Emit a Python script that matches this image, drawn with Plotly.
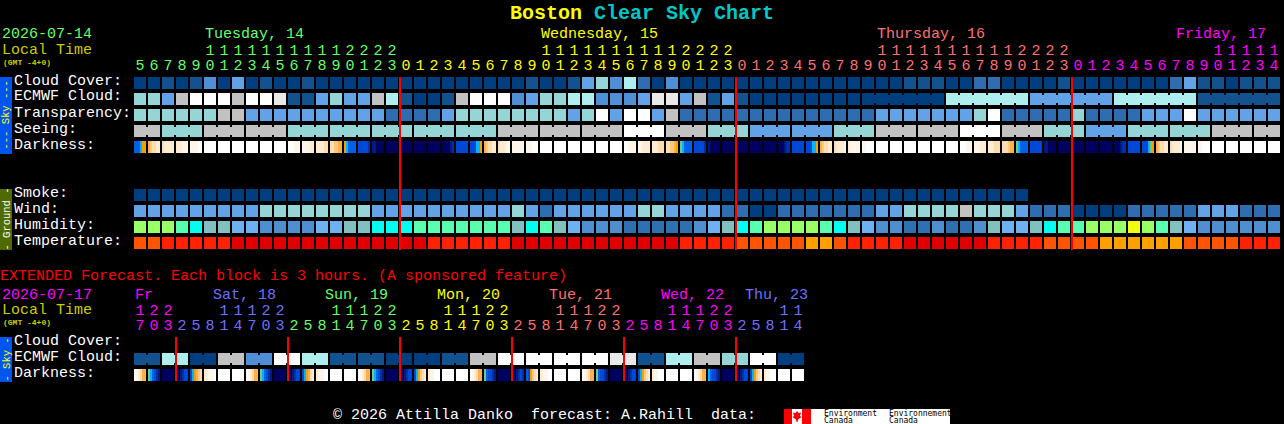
import plotly.graph_objects as go

W, H = 1284, 424
MONO = "Liberation Mono"

# ---------------- data (hourly block forecast, 82 columns) ----------------
hours = [5,6,7,8,9,10,11,12,13,14,15,16,17,18,19,20,21,22,23,
         0,1,2,3,4,5,6,7,8,9,10,11,12,13,14,15,16,17,18,19,20,21,22,23,
         0,1,2,3,4,5,6,7,8,9,10,11,12,13,14,15,16,17,18,19,20,21,22,23,
         0,1,2,3,4,5,6,7,8,9,10,11,12,13,14]
hour_days = [19, 24, 24, 15]
hour_day_colors = ["#66ff66", "#ffff00", "#ff7070", "#ff00ff"]
midnights = [19, 43, 67]

cloud_cover = "AABABDAEABAABAAAAAAAA" "AAAAAAABAABEFDGCADAAAAAAAAAAAAA" "AAABBBAACCAAAABAAAAAAACEBBABBB"
ecmwf_cloud = "FFEHJJJHJJIBBEFEEHGBA" "ABHJJJDEFFGGDDDEIIEHBEBAAAAAAAA" "AAAAAAGGGGGGEEEEEEGGGGGGBBBBBB"
ecmwf_groups = [1]*52 + [6, 6, 6, 6, 6]
transparency = "FFFFFFHHEEEEEEEEEECCC" "CEFFFFFFFFEFJEJJEHCCCCCCCCCCCCC" "CEEEEEEEFJCCCCCFCCCCEEEJEEEEEE"
seeing_blocks = "HFHHFFFFFHHHJHFEEFHHJHFEFFHH"
seeing_groups = [2] + [3]*26 + [2]
darkness = ["999866","543322","322222","222111","111100","0","0","0","0","0","0",
            "000111","111122","222233","334455","689999","aaaaab","ccdddd","d","d","d","d",
            "ddddcb","a","aaa886","543322","322211","1","111000","0","0","0","0","0","0",
            "001111","112222","222333","334456","789999","aaaaab","cddddd","d","d","d","d",
            "dddcbb","a","aaa886","543322","322221","211111","110000","0","0","0","0","0","0",
            "000111","111222","222333","333455","789999","a","ccdddd","d","d","d","d",
            "dddcbb","a","aaa876","543322","322221","1","110000","0","0","0","0","0"]
smoke = "AAAAAAAAAAAAAAAAAAAAAAAAAAAAAAAAAAAAAAAAAAAAAAAAAAAAAAAAAAAAAAAA"
wind = "EEEEEEEEEFFFFFFFFEEEE" "EEEEEEFECEEEEEEFFEEEECCAACCCCCC" "CEEFFFFHFFFECCCAAAACCCCCEEECCC"
humidity = "LLLMYTTSSDDDDSSTTYYYM" "MMMMMMTYMTSDDDCCCCCDSTYMLLLLMYT" "SDDCCDCCDTSSTYMMLLLULMTSDDDDDD"
temperature = "OOPPPPPRRRRRRRRRRRRRR" "PPPPPPRRRRRRRRRRRRPPPPOOOOOAAOP" "PPPRRRRRRPPPPOOOOAAAAAAOOOOPPP"

# ---------------- data (extended 3-hourly forecast, 48 columns) ----------------
ext_hours = [17,20,23, 2,5,8,11,14,17,20,23, 2,5,8,11,14,17,20,23, 2,5,8,11,14,17,20,23,
             2,5,8,11,14,17,20,23, 2,5,8,11,14,17,20,23, 2,5,8,11,14]
ext_days = [3, 8, 8, 8, 8, 8, 5]
ext_day_colors = ["#ff00ff", "#7070ff", "#66ff66", "#ffff00", "#ff7070", "#ff00ff", "#7070ff"]
ext_midnights = [3, 11, 19, 27, 35, 43]
ext_ecmwf_blocks = "BGAHDJGBBAABHJJJJIBGHFJA"
ext_ecmwf_groups = [2]*24
ext_darkness = ["012355","789abc","d","ddcbaa","a86543","221110","0","0",
                "012355","789abc","d","ddcbaa","a86532","211100","0","0",
                "012355","789abc","d","ddcbaa","a86432","211000","0","0",
                "012355","79aabc","d","ddcbab","9a6432","211100","0","0",
                "012355","79aabc","d","ddcbaa","a86432","211000","0","0",
                "012355","89aabc","d","ddcbaa","a86432","211000","0","0"]

# ---------------- palettes ----------------
SKY = dict(A="#003f7f", B="#12528f", C="#2e6eb0", D="#4f8fd5", E="#62a2e6", F="#95d5d5",
           G="#aeeeee", H="#c2c2c2", I="#e9e9e9", J="#ffffff")
HUM = dict(L="#99ff66", M="#59ffb0", Y="#00ffee", T="#82bfbf", S="#6fb0f0", D="#4f8fd0",
           C="#2e70b0", U="#eeff11")
TMP = dict(O="#ff5500", P="#ff2200", R="#e00000", A="#ffa000")
DRK = {"0":"#ffffff","1":"#fff6ea","2":"#ffebd2","3":"#ffdcae","4":"#ffc880","5":"#ffb04a",
       "6":"#f5a000","7":"#70c890","8":"#00b4ff","9":"#0060e8","a":"#0048d8","b":"#0030a8",
       "c":"#001a80","d":"#000060"}

for row in (cloud_cover, ecmwf_cloud, transparency, wind, humidity, temperature, hours, darkness):
    assert len(row) == 82, len(row)
assert len(seeing_blocks) == len(seeing_groups) and sum(seeing_groups) == 82
assert len(ext_hours) == 48 and len(ext_darkness) == 48 and sum(ext_days) == 48

# ---------------- scales: x = column index, y = row index ----------------
COL_PX, ROW_PX = 14, 16
X0, Y0 = 140, 83                 # pixel centre of column 0 / row 0
CELL_W, CELL_H = 12 / COL_PX, 12 / ROW_PX
ROWS = {"cloud":0, "ecmwf":1, "transp":2, "seeing":3, "dark":4,
        "smoke":7, "wind":8, "hum":9, "temp":10,
        "x_ecmwf":17.25, "x_dark":18.25}
fig = go.Figure()

def row_bars(codes, palette, r):
    n = len(codes)
    fig.add_bar(x=list(range(n)), y=[CELL_H]*n, base=[r - CELL_H/2]*n, width=CELL_W,
                marker=dict(color=[palette[c] for c in codes], line_width=0), hoverinfo="skip")

def bridges(blocks, groups, r):
    xs, cs, col = [], [], 0
    for b, g in zip(blocks, groups):
        for k in range(g - 1):
            xs.append(col + k + 0.5); cs.append(SKY[b])
        col += g
    fig.add_bar(x=xs, y=[8/ROW_PX]*len(xs), base=[r - 4/ROW_PX]*len(xs), width=2/COL_PX,
                marker=dict(color=cs, line_width=0), hoverinfo="skip")

def dark_bars(cols, r):
    xs, ws, cs = [], [], []
    for i, s in enumerate(cols):
        if len(s) == 1:
            xs.append(i); ws.append(CELL_W); cs.append(DRK[s])
        else:
            for k, ch in enumerate(s):
                xs.append(i + (k - 2.5) * 2/COL_PX); ws.append(2/COL_PX); cs.append(DRK[ch])
    fig.add_bar(x=xs, y=[CELL_H]*len(xs), base=[r - CELL_H/2]*len(xs), width=ws,
                marker=dict(color=cs, line_width=0), hoverinfo="skip")

def expand(blocks, groups):
    return "".join(b*g for b, g in zip(blocks, groups))

row_bars(cloud_cover, SKY, ROWS["cloud"])
row_bars(ecmwf_cloud, SKY, ROWS["ecmwf"])
bridges(ecmwf_cloud[:52] + "AGEGB", ecmwf_groups, ROWS["ecmwf"])
row_bars(transparency, SKY, ROWS["transp"])
row_bars(expand(seeing_blocks, seeing_groups), SKY, ROWS["seeing"])
bridges(seeing_blocks, seeing_groups, ROWS["seeing"])
dark_bars(darkness, ROWS["dark"])
row_bars(smoke, SKY, ROWS["smoke"])
row_bars(wind, SKY, ROWS["wind"])
row_bars(humidity, HUM, ROWS["hum"])
row_bars(temperature, TMP, ROWS["temp"])
row_bars(expand(ext_ecmwf_blocks, ext_ecmwf_groups), SKY, ROWS["x_ecmwf"])
bridges(ext_ecmwf_blocks, ext_ecmwf_groups, ROWS["x_ecmwf"])
dark_bars(ext_darkness, ROWS["x_dark"])

# hour digits
def digit_trace(hrs, counts, colors, tens_px, units_px):
    col_colors = [c for n, c in zip(counts, colors) for _ in range(n)]
    xs = list(range(len(hrs)))
    tx = [i for i in xs if hrs[i] >= 10]
    fig.add_scatter(x=tx, y=[(tens_px - Y0)/ROW_PX]*len(tx), mode="text",
                    text=[str(hrs[i])[0] for i in tx], hoverinfo="skip",
                    textfont=dict(family=MONO, size=15, color=[col_colors[i] for i in tx]))
    fig.add_scatter(x=xs, y=[(units_px - Y0)/ROW_PX]*len(xs), mode="text",
                    text=[str(h)[-1] for h in hrs], hoverinfo="skip",
                    textfont=dict(family=MONO, size=15, color=col_colors))

digit_trace(hours, hour_days, hour_day_colors, 51, 66)
digit_trace(ext_hours, ext_days, ext_day_colors, 311, 326)

shapes, annotations = [], []

def rect(x0, y0, x1, y1, color):
    shapes.append(dict(type="rect", xref="paper", yref="paper", x0=x0/W, x1=x1/W,
                       y0=1-y0/H, y1=1-y1/H, fillcolor=color, line_width=0, layer="below"))

def label(text, x, y, color="#ffffff", size=15, anchor="left", weight="normal", angle=0, family=MONO):
    annotations.append(dict(text=text.replace(" ", "\u00a0"), x=x/W, y=1-(y+1)/H, xref="paper", yref="paper",
                            showarrow=False, xanchor=anchor, yanchor="middle", textangle=angle,
                            borderpad=0, borderwidth=0,
                            font=dict(family=family, size=size, color=color, weight=weight)))

# midnight lines
for m in midnights:
    shapes.append(dict(type="line", xref="x", yref="y", x0=m-6/COL_PX, x1=m-6/COL_PX,
                       y0=ROWS["cloud"]-CELL_H/2, y1=ROWS["temp"]+CELL_H/2+1/ROW_PX,
                       line=dict(color="#ff0000", width=2), layer="above"))
for m in ext_midnights:
    shapes.append(dict(type="line", xref="x", yref="y", x0=m-6/COL_PX, x1=m-6/COL_PX,
                       y0=(337-Y0)/ROW_PX, y1=ROWS["x_dark"]+CELL_H/2,
                       line=dict(color="#ff0000", width=2), layer="above"))

# side bars
rect(0, 77, 12, 154, "#0055ee")
rect(0, 189, 12, 250, "#4f6a00")
rect(0, 337, 12, 382, "#0055ee")
label("--- Sky ---", 6, 114.5, "#ffff00", 10.5, "center", angle=-90)
label("- Ground -", 6, 218.5, "#ffffff", 10.5, "center", angle=-90)
label("- Sky -", 6, 358.5, "#ffff00", 10.5, "center", angle=-90)

# title and texts
label("Boston", 510, 12, "#ffff00", 20, weight="bold")
label("Clear Sky Chart", 594, 12, "#00c8c8", 20, weight="bold")

label("2026-07-14", 2, 34, "#66ff66")
label("Local Time", 2, 49, "#cccc00")
label("(GMT -4+0)", 3, 61, "#cccc00", 8, weight="bold")
label("Tuesday, 14", 205, 34, "#66ff66")
label("Wednesday, 15", 541, 34, "#ffff00")
label("Thursday, 16", 877, 34, "#ff7070")
label("Friday, 17", 1176, 34, "#ff00ff")

for txt, y in [("Cloud Cover:", 80), ("ECMWF Cloud:", 96), ("Transparency:", 112), ("Seeing:", 128),
               ("Darkness:", 144), ("Smoke:", 192), ("Wind:", 208), ("Humidity:", 224),
               ("Temperature:", 240), ("Cloud Cover:", 340), ("ECMWF Cloud:", 356), ("Darkness:", 372)]:
    label(txt, 14, y)

label("EXTENDED Forecast. Each block is 3 hours. (A sponsored feature)", 0, 275, "#ff0000")
label("2026-07-17", 2, 294, "#ff00ff")
label("Local Time", 2, 309, "#cccc00")
label("(GMT -4+0)", 3, 321, "#cccc00", 8, weight="bold")
for txt, x, c in [("Fr", 135, "#ff00ff"), ("Sat, 18", 213, "#7070ff"), ("Sun, 19", 325, "#66ff66"),
                  ("Mon, 20", 437, "#ffff00"), ("Tue, 21", 549, "#ff7070"), ("Wed, 22", 661, "#ff00ff"),
                  ("Thu, 23", 745, "#7070ff")]:
    label(txt, x, 294, c)

label("\u00a9 2026 Attilla Danko  forecast: A.Rahill  data:", 333, 414)

# logo
rect(784, 409, 950, 424, "#ffffff")
rect(784, 409, 792, 424, "#ff0000")
rect(802, 409, 811, 424, "#ff0000")
shapes.append(dict(type="path", xref="paper", yref="paper", layer="above", fillcolor="#ff0000", line_width=0,
    path="M %f %f " % (797/W, 1-411/H) + " ".join("L %f %f" % (px/W, 1-py/H) for px, py in
        [(798.5,413),(801,412.5),(800,416),(801.5,417),(798,419.5),(797.5,422),(796.5,422),(796,419.5),
         (792.5,417),(794,416),(793,412.5),(795.5,413)]) + " Z"))
for txt, x, y in [("Environment", 824, 412), ("Canada", 824, 419), ("Environnement", 889, 412), ("Canada", 889, 419)]:
    label(txt, x, y, "#000000", 8, family="DejaVu Sans Mono")

fig.update_layout(
    width=W, height=H, margin=dict(l=0, r=0, t=0, b=0, pad=0), autosize=False,
    paper_bgcolor="#000000", plot_bgcolor="#000000", showlegend=False, barmode="overlay",
    xaxis=dict(range=[-X0/COL_PX, (W-X0)/COL_PX], visible=False, fixedrange=True),
    yaxis=dict(range=[(H-Y0)/ROW_PX, -Y0/ROW_PX], visible=False, fixedrange=True),
    shapes=shapes, annotations=annotations,
)
fig.write_html("out.html", config=dict(displayModeBar=False, staticPlot=True),
               post_script="document.body.style.margin='0';document.body.style.background='#000';document.body.style.overflow='hidden';")
